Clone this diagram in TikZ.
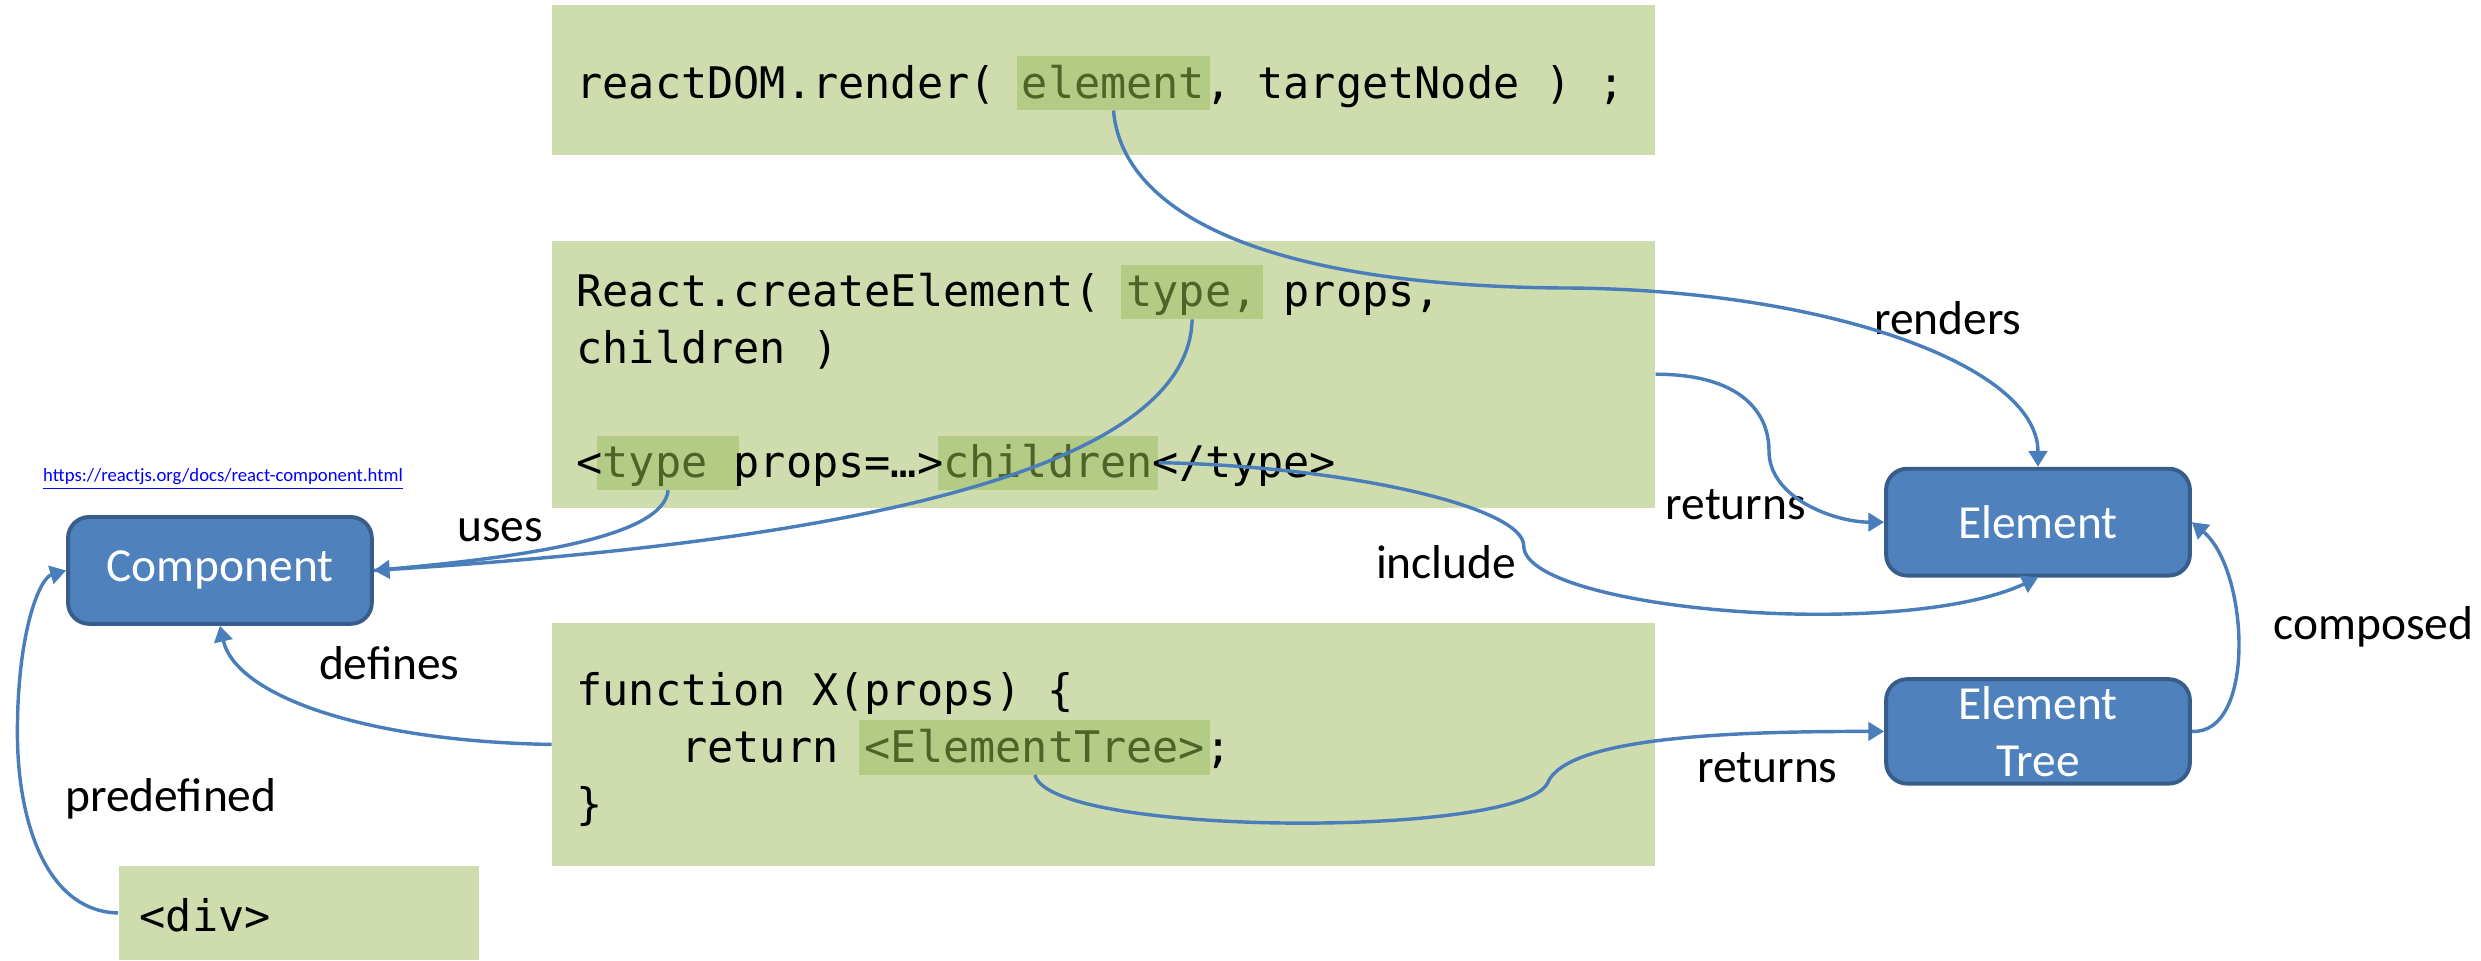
\documentclass[tikz,border=0pt]{standalone}
\usepackage{fontspec}
\setmainfont{Carlito}
\newfontfamily\codefont{DejaVu Sans Mono}
\usetikzlibrary{arrows.meta,positioning}

\definecolor{boxgreen}{HTML}{CFDDAE}
\definecolor{hlgreen}{HTML}{B3CB84}
\definecolor{hltext}{HTML}{4F6228}
\definecolor{nodeblue}{HTML}{4F81BD}
\definecolor{nodeborder}{HTML}{385D8A}
\definecolor{linkblue}{HTML}{4A7EBB}
\definecolor{urlblue}{HTML}{0000FF}

% width of one character of the code font
\newlength\cw
\settowidth\cw{\codefont\fontsize{16.5}{21.6}\selectfont x}
\newcommand\hlstrut{\rule[-4.5pt]{0pt}{20.5pt}}

\tikzset{%
    codebox/.style={fill=boxgreen, inner sep=0pt},
    code/.style={font={\codefont\fontsize{16.5}{21.6}\selectfont\frenchspacing}, anchor=base west, inner sep=0pt},
    hl/.style={fill=hlgreen, anchor=base west, inner xsep=2pt, inner ysep=0pt},
    comp/.style={draw=nodeborder, line width=1.5pt, fill=nodeblue, rounded corners=8pt, text=white,
        font=\fontsize{18}{21.6}\selectfont, minimum width=115.2pt, minimum height=40.5pt, align=center},
    lbl/.style={font=\fontsize{18}{21.6}\selectfont},
    link/.style={draw=linkblue, line width=1.3pt, >={Triangle[length=6pt,width=7pt]}},
}

\begin{document}
\begin{tikzpicture}[x=0.6pt, y=-0.6pt, node distance=37.8pt]
  \useasboundingbox (0,0) rectangle (1568,607);

  % green code boxes
  \node[codebox, minimum width=418.2pt, minimum height=57pt] (render) at (697.5,50.5) {};
  \node[codebox, minimum width=418.2pt, minimum height=101.4pt] (create) at (697.5,236.5) {};
  \node[codebox, minimum width=418.2pt, minimum height=91.8pt] (func) at (697.5,470.5) {};
  \node[codebox, minimum width=136.8pt, minimum height=36pt] (divbox) at (189,577) {};

  % line starts
  \coordinate (l1) at (364,62);
  \coordinate (c1) at (364,194);
  \coordinate (c2) at (364,230);
  \coordinate (c4) at (364,302);
  \coordinate (f1) at (364,446);
  \coordinate (f2) at (364,482);
  \coordinate (f3) at (364,518);
  \coordinate (d1) at (88,589);

  % highlighted words
  \node[hl] (hlelem) at ([xshift=17\cw-2pt]l1) {\hlstrut\hspace*{7\cw}};
  \node[hl] (hltype) at ([xshift=21\cw-2pt]c1) {\hlstrut\hspace*{5\cw}};
  \node[hl] (hltag) at ([xshift=1\cw-2pt]c4) {\hlstrut\hspace*{5\cw}};
  \node[hl] (hlchild) at ([xshift=14\cw-2pt]c4) {\hlstrut\hspace*{8\cw}};
  \node[hl] (hltree) at ([xshift=11\cw-2pt]f2) {\hlstrut\hspace*{13\cw}};

  \node[code] (rline) at (l1) {reactDOM.render( \textcolor{hltext}{element}, targetNode ) ;};
  \node[code] (cline1) at (c1) {React.createElement( \textcolor{hltext}{type,} props,};
  \node[code] (cline2) at (c2) {children )};
  \node[code] (cline4) at (c4) {<\textcolor{hltext}{type} props=…>\textcolor{hltext}{children}</type>};
  \node[code] (fline1) at (f1) {function X(props) \{};
  \node[code] (fline2) at (f2) {\hspace*{4\cw}return \textcolor{hltext}{<ElementTree>};};
  \node[code] (fline3) at (f3) {\}};
  \node[code] (divline) at (d1) {<div>};

  % blue nodes
  \node[comp] (component) at (139,360.5) {Component};
  \node[comp] (element) at (1288,330) {Element};
  \node[comp, below=of element, inner ysep=0pt, minimum height=39.6pt] (elemtree) {Element\\Tree};

  \node[font=\fontsize{7.1}{8}\selectfont, text=urlblue, anchor=west, inner sep=0pt] (url) at (27,303)
    {\underline{https://reactjs.org/docs/react-component.html}};

  % labels
  \node[lbl] (uses) at (316,335) {uses};
  \node[lbl] (defines) at (246,419) {defines};
  \node[lbl] (predef) at (108,505) {predefined};
  \node[lbl] (renders) at (1231,201) {renders};
  \node[lbl] (ret1) at (1097,319) {returns};
  \node[lbl] (include) at (914,355) {include};
  \node[lbl] (ret2) at (1117,485) {returns};
  \node[lbl] (composed) at (1500,396) {composed};

  % connectors
  \draw[link,->] (hlelem.south) .. controls +(5,61) and +(-195,-2) .. (985,182)
      .. controls +(165,0) and +(0,-65) .. (element.north);
  \draw[link,->] (hltype.south) .. controls +(-2,90) and +(324,-20) .. (component.east);
  \draw[link] (hltag.south) .. controls +(-3,30) and +(94,-8) .. (component.east);
  \draw[link,->] (hlchild.east) .. controls +(116,2) and +(0,-25) .. (963,345)
      .. controls +(0,40) and +(-88,41) .. (element.south);
  \draw[link,->] (create.east) .. controls +(53,0) and +(0,-25) .. (1118,285)
      .. controls +(0,30) and +(-31,0) .. (element.west);
  \draw[link,->] (hltree.south) .. controls +(10,39) and +(-18,35) .. (978,495)
      .. controls +(12,-30) and +(-91,0) .. (elemtree.west);
  \draw[link,->] (elemtree.east) .. controls +(41,2) and +(36,30) .. (element.east);
  \draw[link,->] (func.west) .. controls +(-119,-2) and +(10,44) .. (component.south);
  \draw[link,->] (divbox.west) .. controls +(-45,-1) and +(0,57) .. (11,463)
      .. controls +(0,-63) and +(-17,5) .. (component.west);
\end{tikzpicture}
\end{document}
